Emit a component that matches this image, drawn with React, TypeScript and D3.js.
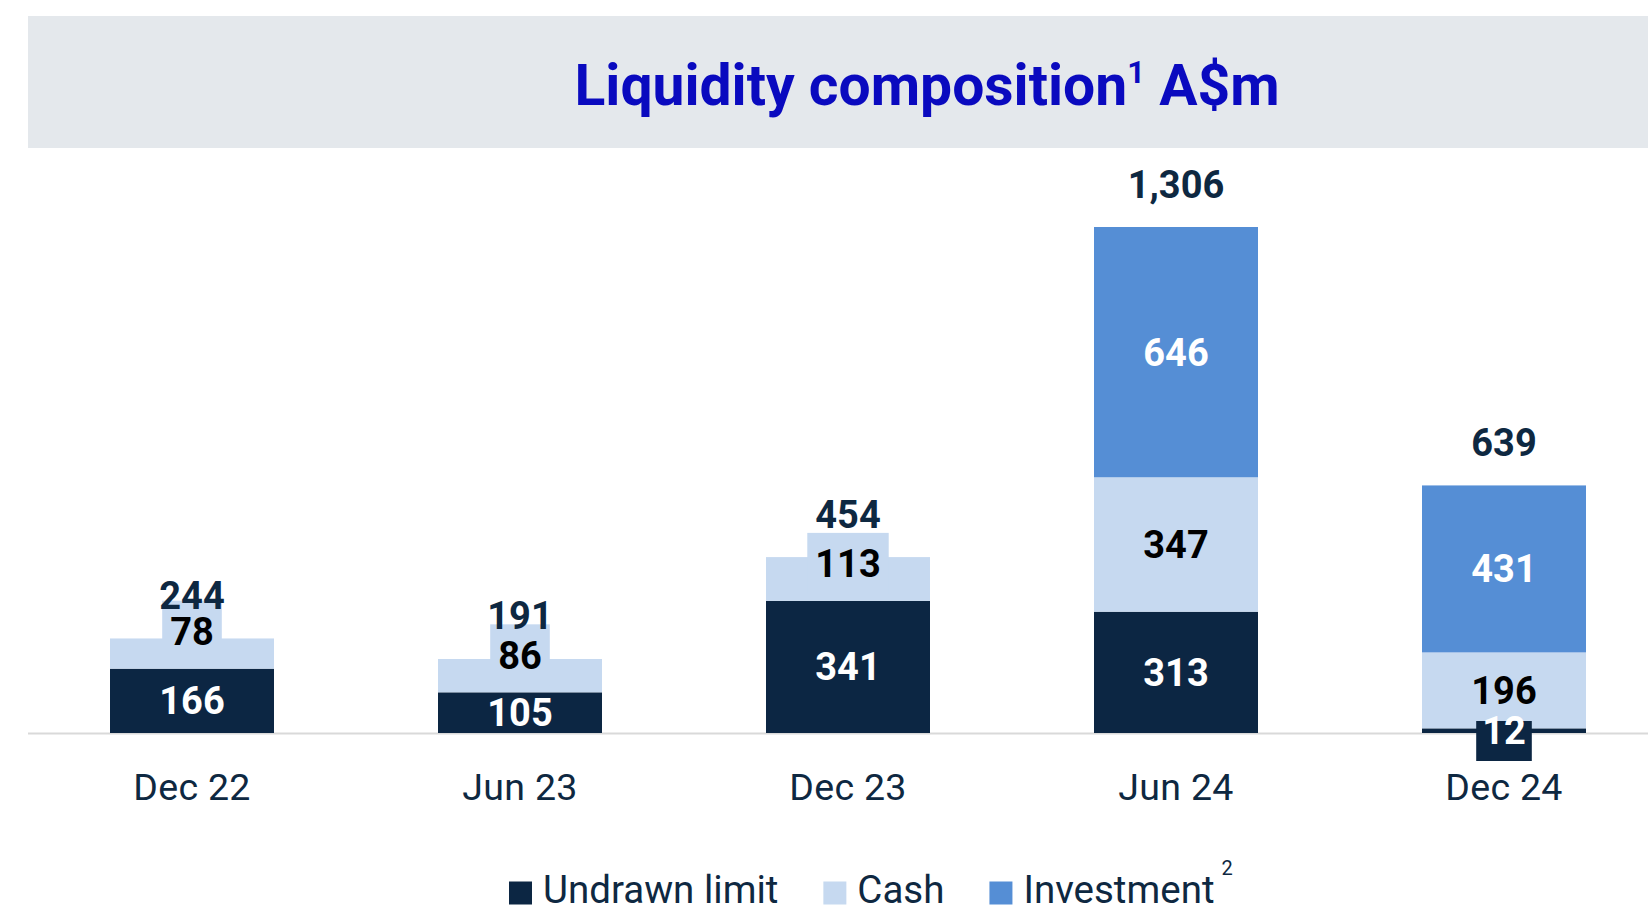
import React from "react";
import * as d3 from "d3";

const categories = ["Dec 22", "Jun 23", "Dec 23", "Jun 24", "Dec 24"];
const undrawnLimit = [166, 105, 341, 313, 12];
const cashValues = [78, 86, 113, 347, 196];
const investmentValues = [0, 0, 0, 646, 431];
const seriesNames = ["Undrawn limit", "Cash", "Investment"];
const seriesKeys = ["undrawn", "cash", "investment"];
const seriesColors = ["#0c2643", "#c6d9f0", "#558ed5"];
const labelColors = ["#ffffff", "#000000", "#ffffff"];
const titleText = "Liquidity composition";
const titleSup = "1";
const titleUnit = " A$m";
const legendSup = ["", "", "2"];

const W = 1648;
const H = 909;
const FONT = "Roboto, 'Noto Sans', sans-serif";
const NAVY_TEXT = "#0e2841";

let canvasCtx: CanvasRenderingContext2D | null = null;
function measure(text: string, font: string, spacing = 0): number {
  if (!canvasCtx) {
    const c = document.createElement("canvas");
    canvasCtx = c.getContext("2d");
  }
  if (!canvasCtx) return text.length * 20;
  canvasCtx.font = font;
  return canvasCtx.measureText(text).width + spacing * text.length;
}

export default function App() {
  const rows = categories.map((c, i) => ({
    category: c,
    undrawn: undrawnLimit[i],
    cash: cashValues[i],
    investment: investmentValues[i],
  }));
  const stack = d3.stack<any>().keys(seriesKeys);
  const stacked = stack(rows);
  const totals = rows.map((r) => r.undrawn + r.cash + r.investment);

  const x = d3
    .scaleBand<string>()
    .domain(categories)
    .range([28, 1668])
    .paddingInner(0.5)
    .paddingOuter(0.25);
  const y = d3.scaleLinear().domain([0, d3.max(totals) as number]).range([733, 227]);
  const bw = x.bandwidth();
  const fmt = d3.format(",");

  const labelFs = 38;
  const digitHalf = labelFs * 0.355;

  const segLabels: any[] = [];
  stacked.forEach((s, si) => {
    s.forEach((d, ci) => {
      const v = d[1] - d[0];
      if (v <= 0) return;
      const top = y(d[1]);
      const bottom = y(d[0]);
      const h = bottom - top;
      const cx = (x(categories[ci]) as number) + bw / 2;
      const text = fmt(v);
      const tw = measure(text, `bold ${labelFs}px Roboto`);
      let cy = (top + bottom) / 2;
      let box: any = null;
      if (si === 0 && h < 20) {
        cy = bottom - 2;
        box = { x: cx - tw / 2 - 6, y: bottom - 12, w: tw + 12, h: 40 };
      } else if (si > 0 && h < 50) {
        cy = bottom - 37;
        box = { x: cx - tw / 2 - 8, y: cy - 31, w: tw + 16, h: 61 };
      }
      segLabels.push({ key: `${si}-${ci}`, si, cx, cy, text, box });
    });
  });

  const legFs = 38.5;
  const legItems: any[] = [];
  let lx = 509;
  seriesNames.forEach((n, i) => {
    const tw = measure(n, `${legFs}px Roboto`);
    legItems.push({ name: n, sx: lx, tx: lx + 34, tw, color: seriesColors[i], sup: legendSup[i] });
    lx = lx + 34 + tw + 45;
  });

  return (
    <svg
      width={W}
      height={H}
      style={{ position: "absolute", left: 0, top: 0, background: "#ffffff" }}
      fontFamily={FONT}
    >
      <rect x={28} y={16} width={W - 28} height={132} fill="#e4e8ec" />
      <text x={927} y={105} textAnchor="middle" fill="#0a0abf" fontWeight="bold" fontSize={57}>
        {titleText}
        <tspan fontSize={31} dy={-22}>{titleSup}</tspan>
        <tspan fontSize={57} dy={22}>{titleUnit}</tspan>
      </text>

      <line x1={28} x2={W} y1={y(0) + 0.5} y2={y(0) + 0.5} stroke="#d9d9d9" strokeWidth={2} />

      {stacked.map((s, si) => (
        <g key={s.key} fill={seriesColors[si]}>
          {s.map((d, ci) =>
            d[1] - d[0] > 0 ? (
              <rect
                key={ci}
                x={x(categories[ci])}
                y={y(d[1])}
                width={bw}
                height={y(d[0]) - y(d[1])}
              />
            ) : null
          )}
        </g>
      ))}

      {segLabels.map((l) =>
        l.box ? (
          <rect key={"b" + l.key} x={l.box.x} y={l.box.y} width={l.box.w} height={l.box.h} fill={seriesColors[l.si]} />
        ) : null
      )}
      {segLabels.map((l) => (
        <text
          key={"t" + l.key}
          x={l.cx}
          y={l.cy + digitHalf}
          textAnchor="middle"
          fontWeight="bold"
          fontSize={labelFs}
          fill={labelColors[l.si]}
        >
          {l.text}
        </text>
      ))}

      {totals.map((t, i) => (
        <text
          key={"tot" + i}
          x={(x(categories[i]) as number) + bw / 2}
          y={y(t) - 29.5}
          textAnchor="middle"
          fontWeight="bold"
          fontSize={38}
          fill={NAVY_TEXT}
        >
          {fmt(t)}
        </text>
      ))}

      {categories.map((c) => (
        <text
          key={"ax" + c}
          x={(x(c) as number) + bw / 2}
          y={800}
          textAnchor="middle"
          fontSize={37.5}
          letterSpacing={0.3}
          fill={NAVY_TEXT}
        >
          {c}
        </text>
      ))}

      {legItems.map((it) => (
        <g key={"leg" + it.name}>
          <rect x={it.sx} y={881.5} width={23} height={23} fill={it.color} />
          <text x={it.tx} y={903} fontSize={legFs} fill={NAVY_TEXT}>
            {it.name}
          </text>
          {it.sup ? (
            <text x={it.tx + it.tw + 7} y={875} fontSize={20} fill={NAVY_TEXT}>
              {it.sup}
            </text>
          ) : null}
        </g>
      ))}
    </svg>
  );
}
